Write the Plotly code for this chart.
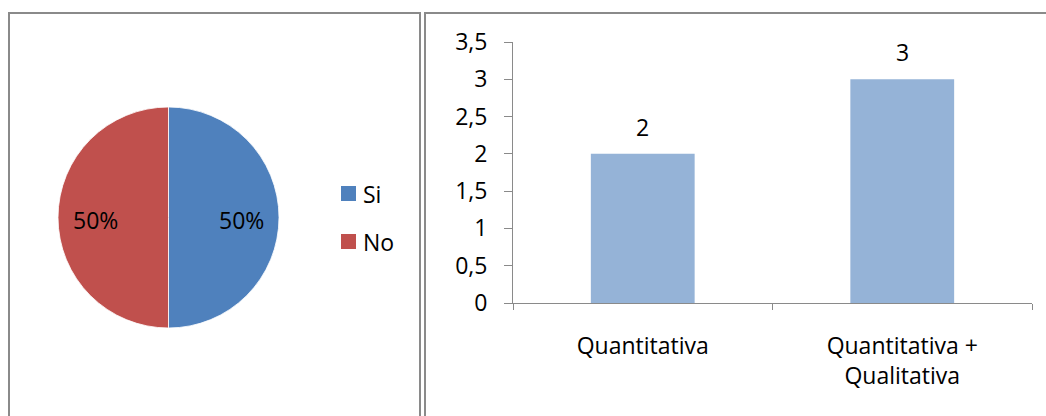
import math
import plotly.graph_objects as go

# Pie: answer shares
pie_labels = ["Si", "No"]
pie_values = [50, 50]
pie_colors = ["#4F81BD", "#C0504D"]

# Bars: type of analysis
bar_categories = ["Quantitativa", "Quantitativa + Qualitativa"]
bar_values = [2, 3]
bar_color = "#95B3D7"
y_ticks = [0, 0.5, 1, 1.5, 2, 2.5, 3, 3.5]

W, H = 1046, 416
FONT = "Open Sans"
FS = 23
GRID = "#8A8A8A"

# pie geometry in pixels
PIE_CX, PIE_CY, PIE_R = 168.5, 217.5, 110.5


def px(x):
    return x / W


def py(y):
    return 1 - y / H


fig = go.Figure()

fig.add_trace(go.Pie(
    labels=pie_labels,
    values=pie_values,
    marker=dict(colors=pie_colors, line=dict(color="white", width=0.8)),
    sort=False,
    direction="clockwise",
    rotation=0,
    textinfo="none",
    domain=dict(x=[px(PIE_CX - PIE_R), px(PIE_CX + PIE_R)],
                y=[py(PIE_CY + PIE_R), py(PIE_CY - PIE_R)]),
    showlegend=False,
    hoverinfo="label+percent",
))

fig.add_trace(go.Bar(
    x=bar_categories,
    y=bar_values,
    marker=dict(color=bar_color, line=dict(width=0)),
    xaxis="x",
    yaxis="y",
    showlegend=False,
))

annotations = []

# percentage labels inside the pie slices (clockwise from 12 o'clock)
total = sum(pie_values)
acc = 0
for val in pie_values:
    mid = (acc + val / 2) / total * 2 * math.pi
    acc += val
    lx = PIE_CX + 0.66 * PIE_R * math.sin(mid)
    ly = PIE_CY - 0.66 * PIE_R * math.cos(mid) + 3
    annotations.append(dict(
        x=px(lx), y=py(ly), xref="paper", yref="paper",
        text=f"{round(val / total * 100)}%", showarrow=False,
        xanchor="center", yanchor="middle",
        font=dict(family=FONT, size=FS, color="black"),
    ))

# value labels above the bars
for cat, val in zip(bar_categories, bar_values):
    annotations.append(dict(
        x=cat, y=val, xref="x", yref="y", text=str(val), showarrow=False,
        yshift=27, yanchor="middle",
        font=dict(family=FONT, size=FS, color="black"),
    ))

shapes = []
# legend for the pie, drawn beside it
for i, (lab, col) in enumerate(zip(pie_labels, pie_colors)):
    top = 186 + i * 48
    shapes.append(dict(type="rect", xref="paper", yref="paper",
                       x0=px(341), x1=px(356), y0=py(top + 15), y1=py(top),
                       fillcolor=col, line=dict(width=0)))
    annotations.append(dict(
        x=px(361), y=py(top + 7.5), xref="paper", yref="paper", text=lab,
        showarrow=False, xanchor="left", yanchor="middle",
        font=dict(family=FONT, size=FS, color="black"),
    ))

# panel frames
frame = dict(color=GRID, width=2)
for x0, y0, x1, y1 in [
    (9, 13, 9, H + 2),
    (8, 13, 421, 13),
    (420, 13, 420, H + 2),
    (425, 13, 425, H + 2),
    (424, 13, W + 2, 13),
]:
    shapes.append(dict(type="line", xref="paper", yref="paper",
                       x0=px(x0), y0=py(y0), x1=px(x1), y1=py(y1), line=frame))

category_text = [c.replace(" + ", " +<br>") for c in bar_categories]

fig.update_layout(
    width=W, height=H,
    margin=dict(l=0, r=0, t=0, b=0, autoexpand=False),
    paper_bgcolor="white",
    plot_bgcolor="white",
    separators=",.",
    font=dict(family=FONT, size=FS, color="black"),
    bargap=0.6,
    xaxis=dict(
        domain=[px(513), px(1032)],
        anchor="y",
        type="category",
        range=[-0.5, 1.5],
        tickvals=bar_categories,
        ticktext=category_text,
        automargin=False,
        showline=True, linecolor=GRID, linewidth=1,
        ticks="outside", tickson="boundaries", ticklen=6, tickcolor=GRID,
        ticklabelstandoff=22,
        showgrid=False, zeroline=False,
        tickfont=dict(family=FONT, size=FS, color="black"),
    ),
    yaxis=dict(
        domain=[py(303), py(42)],
        anchor="x",
        range=[0, 3.5],
        tickvals=y_ticks,
        automargin=False,
        showline=True, linecolor=GRID, linewidth=1,
        ticks="outside", ticklen=8, tickcolor=GRID,
        ticklabelstandoff=12,
        showgrid=False, zeroline=False,
        tickfont=dict(family=FONT, size=FS, color="black"),
    ),
    annotations=annotations,
    shapes=shapes,
)

fig.write_html("out.html")
